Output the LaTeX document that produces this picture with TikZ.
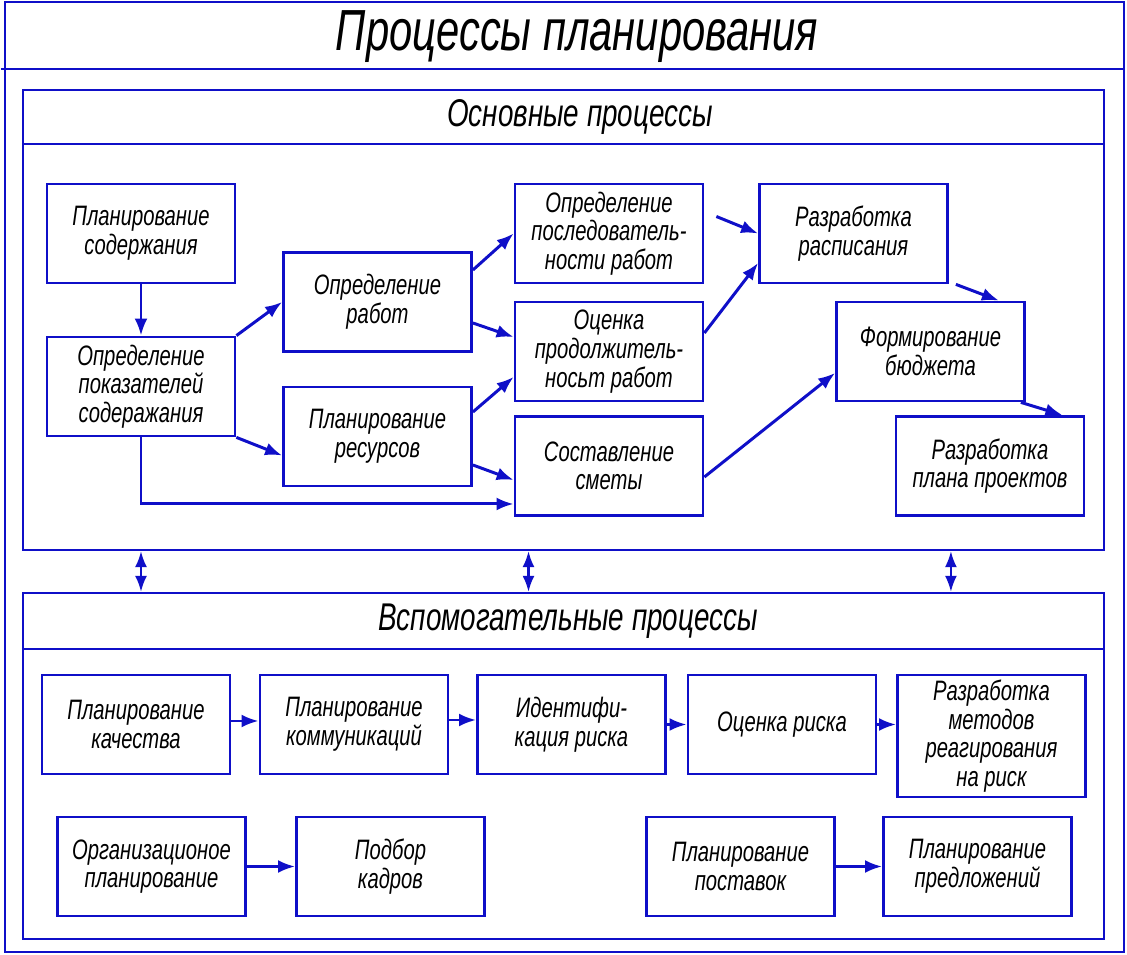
\documentclass[tikz,border=0pt]{standalone}
\usepackage{fontspec}
\setmainfont{Liberation Sans}[FakeStretch=0.72]
\usepackage{tikz}
\usetikzlibrary{arrows.meta}
\definecolor{drawblue}{RGB}{15,15,200}

\begin{document}
\begin{tikzpicture}[x=0.02cm, y=-0.02cm,
    frame/.style={draw=drawblue, line width=1.4pt},
    box/.style={draw=drawblue, line width=1.6pt, minimum width=3.76cm, minimum height=1.98cm,
        align=center, inner sep=2pt, font=\fontsize{16}{16.3}\selectfont\itshape},
    arr/.style={draw=drawblue, line width=1.7pt, -{Latex[length=3.4mm,width=2.6mm]}},
    dblarr/.style={draw=drawblue, line width=1.2pt, {Latex[length=3.2mm,width=2.4mm]}-{Latex[length=3.2mm,width=2.4mm]}}]
    \useasboundingbox (0,0) rectangle (1127,955);

    % outer frame and title
    \node[frame, minimum width=22.38cm, minimum height=19cm] (outer) at (564.5,477) {};
    \draw[frame] ([xshift=-0.06cm, yshift=-1.36cm]outer.north west) -- ([yshift=-1.36cm]outer.north east);
    \node[font=\fontsize{33}{33}\selectfont\itshape] (title) at (577,37) {Процессы планирования};

    % main processes
    \node[frame, minimum width=21.62cm, minimum height=9.2cm] (osn) at (563.5,320) {};
    \draw[frame] ([yshift=-1.1cm]osn.north west) -- ([yshift=-1.1cm]osn.north east);
    \node[font=\fontsize{22}{22}\selectfont\itshape] (osntitle) at (580,117) {Основные процессы};

    \node[box] (A) at (141,233.5) {Планирование\\содержания};
    \node[box] (B) at (141,386.5) {Определение\\показателей\\содеражания};
    \node[box] (C) at (377.5,302) {Определение\\работ};
    \node[box] (D) at (377.5,436.5) {Планирование\\ресурсов};
    \node[box] (E) at (609,233.5) {Определение\\последователь-\\ности работ};
    \node[box] (F) at (609,351.5) {Оценка\\продолжитель-\\носьт работ};
    \node[box] (G) at (609,466) {Составление\\сметы};
    \node[box] (H) at (853.5,233.5) {Разработка\\расписания};
    \node[box] (I) at (930.5,351.5) {Формирование\\бюджета};
    \node[box] (J) at (990,466) {Разработка\\плана проектов};

    \draw[arr] (A.south) -- (B.north);
    \draw[arr] (B.north east) -- (C.west);
    \draw[arr] (B.south east) -- ([yshift=-0.38cm]D.west);
    \draw[arr] (B.south) |- ([yshift=-0.76cm]G.west);
    \draw[arr] ([yshift=0.64cm]C.east) -- (E.west);
    \draw[arr] ([yshift=-0.42cm]C.east) -- ([yshift=0.29cm]F.west);
    \draw[arr] ([yshift=0.49cm]D.east) -- ([yshift=-0.51cm]F.west);
    \draw[arr] ([yshift=-0.57cm]D.east) -- ([yshift=-0.28cm]G.west);
    \draw[arr] ([xshift=0.24cm, yshift=0.34cm]E.east) -- (H.west);
    \draw[arr] ([yshift=0.37cm]F.east) -- ([yshift=-0.59cm]H.west);
    \draw[arr] ([yshift=-0.22cm]G.east) -- ([yshift=-0.43cm]I.west);
    \draw[arr] ([xshift=0.14cm]H.south east) -- ([xshift=-0.54cm]I.north east);
    \draw[arr] ([xshift=-0.1cm]I.south east) -- ([xshift=-0.46cm]J.north east);

    % auxiliary processes
    \node[frame, minimum width=21.62cm, minimum height=6.92cm] (vsp) at (563.5,766) {};
    \draw[frame] ([yshift=-1.14cm]vsp.north west) -- ([yshift=-1.14cm]vsp.north east);
    \node[font=\fontsize{22}{22}\selectfont\itshape] (vsptitle) at (568,621) {Вспомогательные процессы};

    % links between the two groups
    \draw[dblarr] (osn.south -| A.south) -- (vsp.north -| A.south);
    \draw[dblarr] ([xshift=-0.7cm]osn.south) -- ([xshift=-0.7cm]vsp.north);
    \draw[dblarr] ([xshift=7.75cm]osn.south) -- ([xshift=7.75cm]vsp.north);

    \node[box] (K) at (136,724.5) {Планирование\\качества};
    \node[box] (L) at (354,724.5) {Планирование\\коммуникаций};
    \node[box] (M) at (571.5,724.5) {Идентифи-\\кация риска};
    \node[box] (N) at (782,724.5) {Оценка риска};
    \node[box, minimum height=2.44cm] (O) at (991.5,736) {Разработка\\методов\\реагирования\\на риск};
    \node[box] (P) at (151.5,866.5) {Организационое\\планирование};
    \node[box] (Q) at (390.5,866.5) {Подбор\\кадров};
    \node[box] (R) at (740.5,866.5) {Планирование\\поставок};
    \node[box] (S) at (977.5,866.5) {Планирование\\предложений};

    \draw[arr] ([yshift=0.07cm]K.east) -- ([yshift=0.07cm]L.west);
    \draw[arr] ([yshift=0.09cm]L.east) -- ([yshift=0.09cm]M.west);
    \draw[arr] (M.east) -- (N.west);
    \draw[arr] (N.east) -- (N.east -| O.west);
    \draw[arr] (P.east) -- (Q.west);
    \draw[arr] (R.east) -- (S.west);
\end{tikzpicture}
\end{document}
